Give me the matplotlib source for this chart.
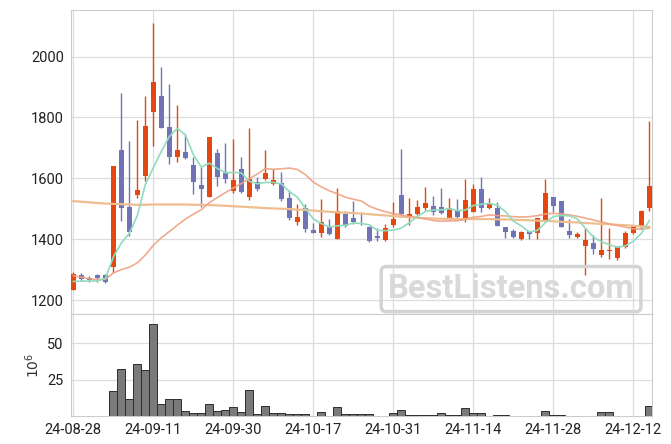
import matplotlib
matplotlib.use("Agg")
import matplotlib.pyplot as plt
import numpy as np
import pandas as pd

plt.rcParams['font.family'] = ['Roboto', 'DejaVu Sans']

# trading days (KRX, holidays removed)
holidays = ['2024-09-16', '2024-09-17', '2024-09-18', '2024-10-01', '2024-10-03', '2024-10-09']
dates = pd.bdate_range('2024-08-28', '2024-12-16')
dates = dates[~dates.isin(pd.to_datetime(holidays))]

opens = [1233, 1281, 1272, 1281, 1281, 1310, 1693, 1506, 1545, 1608,
         1819, 1871, 1769, 1671, 1685, 1644, 1578, 1540, 1684, 1619,
         1558, 1631, 1540, 1589, 1598, 1580, 1586, 1535, 1455, 1502,
         1430, 1419, 1443, 1402, 1483, 1468, 1453, 1440, 1410, 1396,
         1448, 1545, 1474, 1482, 1504, 1509, 1505, 1471, 1493, 1465,
         1490, 1565, 1501, 1501, 1439, 1427, 1399, 1427, 1419, 1457,
         1537, 1525, 1427, 1408, 1379, 1386, 1348, 1361, 1337, 1373,
         1419, 1441, 1504]
highs = [1293, 1290, 1278, 1284, 1284, 1640, 1879, 1724, 1791, 1871,
         2112, 1965, 1909, 1840, 1745, 1669, 1638, 1736, 1696, 1717,
         1729, 1669, 1764, 1603, 1693, 1631, 1622, 1562, 1514, 1517,
         1454, 1531, 1465, 1567, 1494, 1525, 1489, 1442, 1438, 1449,
         1521, 1695, 1534, 1529, 1570, 1542, 1567, 1534, 1531, 1597,
         1580, 1603, 1534, 1523, 1441, 1432, 1426, 1428, 1470, 1598,
         1539, 1527, 1465, 1422, 1436, 1414, 1534, 1438, 1377, 1428,
         1447, 1496, 1790]
lows = [1233, 1262, 1260, 1260, 1257, 1288, 1460, 1411, 1534, 1592,
        1706, 1765, 1646, 1655, 1664, 1547, 1507, 1540, 1575, 1586,
        1551, 1553, 1529, 1559, 1594, 1577, 1524, 1463, 1445, 1425,
        1420, 1406, 1414, 1400, 1441, 1450, 1448, 1392, 1395, 1395,
        1441, 1474, 1447, 1480, 1496, 1479, 1483, 1470, 1470, 1457,
        1488, 1488, 1500, 1442, 1405, 1405, 1396, 1400, 1401, 1455,
        1488, 1440, 1403, 1405, 1282, 1350, 1342, 1334, 1331, 1371,
        1417, 1432, 1493]
closes = [1284, 1270, 1266, 1271, 1260, 1640, 1501, 1425, 1562, 1772,
          1917, 1767, 1671, 1693, 1668, 1589, 1564, 1736, 1605, 1598,
          1594, 1556, 1598, 1565, 1619, 1594, 1533, 1471, 1473, 1434,
          1421, 1456, 1416, 1493, 1444, 1456, 1449, 1393, 1404, 1438,
          1465, 1482, 1483, 1505, 1519, 1490, 1485, 1501, 1474, 1529,
          1565, 1504, 1516, 1444, 1425, 1408, 1425, 1418, 1468, 1551,
          1510, 1441, 1414, 1417, 1397, 1367, 1364, 1365, 1375, 1419,
          1443, 1493, 1575]
# volume in millions of shares
volume = [0, 0, 0, 0, 0, 17.0, 32.5, 12.0, 35.4, 31.4,
          63.2, 8.0, 11.4, 12.0, 3.4, 1.8, 1.8, 8.0, 3.4, 4.1,
          5.9, 2.7, 17.5, 1.4, 6.6, 1.8, 1.8, 1.2, 1.2, 1.2,
          0, 2.7, 0, 5.9, 1.2, 1.2, 1.2, 1.2, 0, 0,
          1.8, 4.1, 0.9, 0.9, 0.9, 0.9, 1.8, 0.9, 0.9, 5.2,
          1.8, 1.8, 0, 0.9, 0.9, 0, 0, 0, 0, 3.4,
          0.9, 0.9, 0, 0, 0, 0, 2.5, 2.5, 0, 0,
          0, 0, 6.6]

# moving averages: first values depend on days before the chart
ma5_head = [1261, 1262, 1262, 1263]
ma20_head = [1280, 1275, 1270, 1267, 1268, 1289, 1300, 1308, 1322, 1348,
             1380, 1405, 1425, 1446, 1466, 1482, 1497, 1520, 1537]
ma_long = [1525, 1523, 1521, 1519, 1517, 1516, 1515, 1514, 1513, 1513,
           1514, 1514, 1514, 1514, 1514, 1513, 1513, 1512, 1511, 1510,
           1508, 1507, 1505, 1504, 1502, 1501, 1500, 1499, 1497, 1496,
           1494, 1492, 1490, 1488, 1487, 1486, 1484, 1482, 1480, 1478,
           1476, 1474, 1472, 1470, 1469, 1468, 1467, 1467, 1466, 1466,
           1466, 1466, 1466, 1465, 1465, 1464, 1463, 1462, 1461, 1460,
           1459, 1457, 1456, 1455, 1453, 1452, 1450, 1449, 1447, 1446,
           1444, 1442, 1441]

df = pd.DataFrame({'open': opens, 'high': highs, 'low': lows,
                   'close': closes, 'volume': volume}, index=dates)
ma5 = df['close'].rolling(5).mean().values
ma5[:4] = ma5_head
ma20 = df['close'].rolling(20).mean().values
ma20[:19] = ma20_head

UP = '#e4470f'
DOWN = '#7073b5'
GRID = '#dddddd'

x = np.arange(len(df))
up = df['close'].values >= df['open'].values
colors = np.where(up, UP, DOWN)

fig = plt.figure(figsize=(6.71, 4.44), dpi=100)
ax = fig.add_axes([0.1054, 0.2928, 0.8659, 0.6858])
axv = fig.add_axes([0.1054, 0.0631, 0.8659, 0.2297], sharex=ax)

# candles
ax.vlines(x, df['low'], df['high'], colors=colors, lw=1.0, zorder=3)
body_lo = np.minimum(df['open'], df['close']).values
body_h = np.maximum(np.abs(df['close'] - df['open']).values, 3)
ax.bar(x, body_h, bottom=body_lo, width=0.62, color=colors, lw=0, zorder=4)

ax.plot(x, ma_long, color='#f0bd8e', lw=1.6, zorder=5)
ax.plot(x, ma20, color='#efa281', lw=1.2, alpha=0.9, zorder=5)
ax.plot(x, ma5, color='#8fdcbf', lw=1.2, zorder=6)

ax.set_ylim(1154, 2155)
ax.set_yticks([1200, 1400, 1600, 1800, 2000])
ax.set_xlim(-0.33, 72.3)

# volume
vmask = df['volume'].values > 0
axv.bar(x[vmask], df['volume'].values[vmask], width=1.0, color='#7a7a7a',
        edgecolor='#2e2e2e', lw=0.7, zorder=3)
axv.set_ylim(0, 70)
axv.set_yticks([25, 50])
axv.set_ylabel(r'$10^6$', fontsize=10, color='#333333', labelpad=4)

ticks = x[::10]
axv.set_xticks(ticks)
axv.set_xticklabels(df.index[::10].strftime('%y-%m-%d'))
plt.setp(ax.get_xticklabels(), visible=False)

for a in (ax, axv):
    a.grid(True, color=GRID, lw=0.9, zorder=0)
    a.set_axisbelow(True)
    for s in a.spines.values():
        s.set_color('#cccccc')
    a.tick_params(length=0, labelsize=10.5, labelcolor='#222222', pad=5)

# watermark
fig.text(0.7616, 0.349, 'BestListens.com', fontsize=23.5, fontweight='bold',
         color='#d9d9d9', ha='center', va='center', zorder=1,
         bbox=dict(boxstyle='round,pad=0.2,rounding_size=0.15', fc='none',
                   ec='#d4d4d4', lw=2.5))

fig.savefig('out.png', dpi=100)
